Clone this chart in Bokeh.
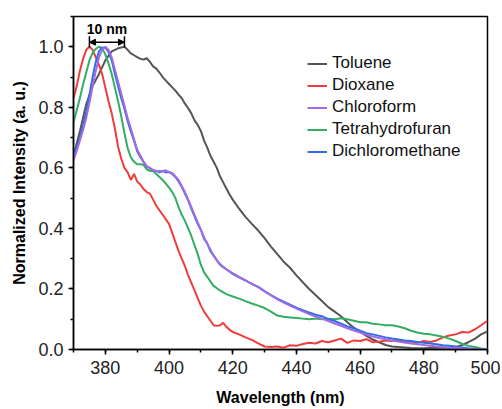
import numpy as np
from bokeh.plotting import figure
from bokeh.models import (Range1d, FixedTicker, Legend, LegendItem, Arrow, NormalHead)
from bokeh.core.properties import value
from bokeh.embed import file_html
from bokeh.resources import INLINE

# ---------------- data ----------------
tol_wl = [370, 372, 374, 376, 378, 380, 382, 384, 386, 387, 388, 389, 390, 391, 392, 393, 394, 395, 396, 397,
          398, 399, 400, 401, 402, 403, 404, 405, 406, 407, 408, 409, 410, 411, 412, 413, 414, 415, 416, 417,
          418, 419, 420, 422, 424, 426, 428, 430, 432, 434, 436, 438, 440, 442, 444, 446, 448, 450, 452, 454,
          456, 458, 460, 462, 464, 466, 468, 470, 472, 476, 480, 484, 488, 490, 492, 494, 496, 498, 500]
tol_int = [0.64, 0.72, 0.81, 0.87, 0.91, 0.955, 0.985, 0.995, 1.0, 0.99, 0.978, 0.972, 0.966, 0.96, 0.958, 0.962, 0.95, 0.935, 0.928, 0.915,
           0.90, 0.888, 0.877, 0.866, 0.855, 0.842, 0.83, 0.812, 0.797, 0.78, 0.757, 0.742, 0.722, 0.69, 0.667, 0.64, 0.62, 0.6, 0.572, 0.552,
           0.532, 0.512, 0.495, 0.465, 0.438, 0.415, 0.393, 0.368, 0.34, 0.315, 0.29, 0.27, 0.245, 0.222, 0.2, 0.18, 0.16, 0.14, 0.125, 0.11,
           0.09, 0.072, 0.058, 0.045, 0.033, 0.024, 0.015, 0.01, 0.008, 0.005, 0.004, 0.006, 0.006, 0.008, 0.015, 0.024, 0.035, 0.05, 0.06]

dio_wl = [370, 371, 372, 373, 374, 375, 376, 377, 378, 379, 380, 381, 382, 383, 384, 385, 386, 387, 388, 389,
          390, 391, 392, 393, 394, 395, 396, 397, 398, 399, 400, 401, 402, 403, 404, 405, 406, 407, 408, 409,
          410, 411, 412, 413, 414, 415, 416, 417, 418, 419, 420, 422, 424, 426, 428, 430, 432, 434, 436, 438,
          440, 442, 444, 446, 448, 450, 452, 454, 456, 458, 460, 462, 464, 466, 468, 470, 472, 474, 476, 478,
          480, 482, 484, 486, 488, 490, 492, 494, 496, 498, 500]
dio_int = [0.83, 0.87, 0.92, 0.96, 0.99, 1.0, 0.99, 0.965, 0.94, 0.91, 0.865, 0.82, 0.78, 0.73, 0.67, 0.63, 0.6, 0.585, 0.56, 0.58,
           0.555, 0.545, 0.53, 0.52, 0.515, 0.495, 0.475, 0.46, 0.445, 0.43, 0.415, 0.385, 0.355, 0.325, 0.3, 0.275, 0.245, 0.22, 0.195, 0.17,
           0.145, 0.125, 0.11, 0.095, 0.08, 0.078, 0.08, 0.088, 0.075, 0.065, 0.058, 0.05, 0.04, 0.032, 0.02, 0.01, 0.008, 0.01, 0.006, 0.014,
           0.012, 0.018, 0.022, 0.02, 0.028, 0.024, 0.03, 0.036, 0.022, 0.03, 0.028, 0.034, 0.024, 0.026, 0.03, 0.028, 0.032, 0.024, 0.026, 0.022,
           0.028, 0.025, 0.03, 0.04, 0.046, 0.05, 0.058, 0.056, 0.066, 0.08, 0.095]

chl_wl = [370, 371, 372, 373, 374, 375, 376, 377, 378, 379, 380, 381, 382, 383, 384, 385, 386, 387, 388, 389,
          390, 391, 392, 393, 394, 395, 396, 397, 398, 399, 400, 401, 402, 403, 404, 405, 406, 407, 408, 409,
          410, 411, 412, 413, 414, 415, 416, 417, 418, 420, 422, 424, 426, 428, 430, 432, 434, 436, 438, 440,
          442, 444, 446, 448, 450, 452, 454, 456, 458, 460, 462, 464, 466, 468, 470, 472, 474, 476, 478, 480,
          482, 484, 486, 488, 490, 492, 494, 496, 498, 500]
chl_int = [0.625, 0.655, 0.69, 0.725, 0.765, 0.815, 0.87, 0.92, 0.965, 0.99, 1.0, 0.99, 0.965, 0.925, 0.885, 0.845, 0.805, 0.765, 0.73, 0.695,
           0.66, 0.64, 0.62, 0.605, 0.6, 0.592, 0.59, 0.59, 0.588, 0.592, 0.585, 0.583, 0.572, 0.56, 0.54, 0.52, 0.495, 0.47, 0.445, 0.42,
           0.395, 0.37, 0.35, 0.33, 0.31, 0.295, 0.283, 0.273, 0.265, 0.252, 0.24, 0.228, 0.217, 0.206, 0.192, 0.179, 0.166, 0.155, 0.145, 0.135,
           0.126, 0.117, 0.109, 0.102, 0.094, 0.086, 0.078, 0.07, 0.063, 0.056, 0.049, 0.043, 0.038, 0.034, 0.03, 0.026, 0.023, 0.02, 0.017, 0.015,
           0.012, 0.01, 0.008, 0.006, 0.005, 0.003, 0.002, 0.001, 0.0, 0.0]

thf_wl = [370, 371, 372, 373, 374, 375, 376, 377, 378, 379, 380, 381, 382, 383, 384, 385, 386, 387, 388, 389,
          390, 391, 392, 393, 394, 395, 396, 397, 398, 399, 400, 401, 402, 403, 404, 405, 406, 407, 408, 409,
          410, 411, 412, 413, 414, 416, 418, 420, 422, 424, 426, 428, 430, 432, 434, 436, 438, 440, 442, 444,
          446, 448, 450, 452, 454, 456, 458, 460, 462, 464, 466, 468, 470, 472, 474, 476, 478, 480, 482, 484,
          486, 488, 490, 492, 494, 496, 498, 500]
thf_int = [0.75, 0.79, 0.83, 0.875, 0.915, 0.955, 0.98, 0.993, 1.0, 0.995, 0.975, 0.945, 0.91, 0.865, 0.82, 0.77, 0.715, 0.665, 0.635, 0.62,
           0.612, 0.612, 0.61, 0.595, 0.59, 0.59, 0.58, 0.57, 0.56, 0.548, 0.535, 0.52, 0.5, 0.47, 0.445, 0.425, 0.4, 0.375, 0.345, 0.315,
           0.28, 0.255, 0.24, 0.225, 0.21, 0.195, 0.183, 0.175, 0.168, 0.16, 0.152, 0.145, 0.137, 0.125, 0.112, 0.108, 0.106, 0.104, 0.102, 0.1,
           0.102, 0.1, 0.102, 0.1, 0.103, 0.1, 0.095, 0.09, 0.09, 0.085, 0.083, 0.08, 0.08, 0.076, 0.07, 0.062, 0.056, 0.052, 0.05, 0.046,
           0.042, 0.036, 0.028, 0.019, 0.012, 0.008, 0.003, 0.0]

dcm_wl = [370, 371, 372, 373, 374, 375, 376, 377, 378, 379, 380, 381, 382, 383, 384, 385, 386, 387, 388, 389,
          390, 391, 392, 393, 394, 395, 396, 397, 398, 399, 400, 401, 402, 403, 404, 405, 406, 407, 408, 409,
          410, 411, 412, 413, 414, 415, 416, 417, 418, 420, 422, 424, 426, 428, 430, 432, 434, 436, 438, 440,
          442, 444, 446, 448, 450, 452, 454, 456, 458, 460, 462, 464, 466, 468, 470, 472, 474, 476, 478, 480,
          482, 484, 486, 488, 490, 492, 494, 496, 498, 500]
dcm_int = [0.635, 0.665, 0.7, 0.74, 0.785, 0.84, 0.9, 0.95, 0.985, 0.998, 0.997, 0.983, 0.955, 0.91, 0.87, 0.83, 0.795, 0.755, 0.72, 0.69,
           0.655, 0.635, 0.62, 0.605, 0.598, 0.592, 0.59, 0.585, 0.59, 0.585, 0.587, 0.58, 0.57, 0.555, 0.537, 0.515, 0.493, 0.465, 0.44, 0.415,
           0.395, 0.365, 0.35, 0.325, 0.31, 0.295, 0.28, 0.272, 0.265, 0.25, 0.238, 0.228, 0.217, 0.207, 0.193, 0.18, 0.168, 0.158, 0.148, 0.138,
           0.13, 0.122, 0.115, 0.11, 0.1, 0.094, 0.085, 0.076, 0.07, 0.062, 0.054, 0.05, 0.045, 0.04, 0.036, 0.033, 0.03, 0.028, 0.025, 0.022,
           0.02, 0.017, 0.014, 0.012, 0.01, 0.007, 0.004, 0.002, 0.0, 0.0]

series_names = ["Toluene", "Dioxane", "Chloroform", "Tetrahydrofuran", "Dichloromethane"]
series_colors = ["#555555", "#f23b3b", "#a46ae6", "#32ad62", "#2f6fe4"]

x_ticks = [380, 400, 420, 440, 460, 480, 500]
y_ticks = [0.0, 0.2, 0.4, 0.6, 0.8, 1.0]
y_tick_labels = {0.0: "0.0", 0.2: "0.2", 0.4: "0.4", 0.6: "0.6", 0.8: "0.8", 1.0: "1.0"}
shift_label = "10 nm"

# ---------------- figure ----------------
FONT = "Liberation Sans"
p = figure(width=500, height=408, output_backend="svg", toolbar_location=None,
           x_range=Range1d(370, 500), y_range=Range1d(0, 1.1),
           min_border_left=73, min_border_right=13, min_border_top=16, min_border_bottom=59)
p.background_fill_color = "white"
p.border_fill_color = "white"
p.grid.visible = False
p.outline_line_color = "black"
p.outline_line_width = 1.5

for ax in (p.xaxis[0], p.yaxis[0]):
    ax.axis_line_width = 1.5
    ax.axis_line_color = "black"
    ax.major_tick_line_width = 1.5
    ax.minor_tick_line_width = 1.5
    ax.major_tick_in = 0
    ax.major_tick_out = 5
    ax.minor_tick_in = 0
    ax.minor_tick_out = 3
    ax.major_label_text_font = FONT
    ax.major_label_text_font_size = "18px"
    ax.major_label_text_color = "#222222"
    ax.axis_label_text_font = FONT
    ax.axis_label_text_font_size = "16px"
    ax.axis_label_text_font_style = "bold"
    ax.axis_label_text_color = "black"

p.xaxis[0].ticker = FixedTicker(ticks=x_ticks, minor_ticks=[370 + 10 * i for i in range(14)])
p.yaxis[0].ticker = FixedTicker(ticks=y_ticks, minor_ticks=[0.1 * i for i in range(12)])
p.yaxis[0].major_label_overrides = y_tick_labels
p.xaxis[0].axis_label = "Wavelength (nm)"
p.yaxis[0].axis_label = "Normalized Intensity (a. u.)"
p.xaxis[0].major_label_standoff = 6
p.xaxis[0].axis_label_standoff = 12
p.yaxis[0].major_label_standoff = 5
p.yaxis[0].axis_label_standoff = 7

data = {
    "Toluene": (tol_wl, tol_int),
    "Dioxane": (dio_wl, dio_int),
    "Chloroform": (chl_wl, chl_int),
    "Tetrahydrofuran": (thf_wl, thf_int),
    "Dichloromethane": (dcm_wl, dcm_int),
}
renderers = {}
draw_order = ["Toluene", "Dioxane", "Tetrahydrofuran", "Dichloromethane", "Chloroform"]
for name in draw_order:
    wl, it = data[name]
    c = series_colors[series_names.index(name)]
    renderers[name] = p.line(wl, it, line_color=c, line_width=2)

legend = Legend(items=[LegendItem(label=n, renderers=[renderers[n]]) for n in series_names],
                location=(234, 188), padding=0, spacing=2, glyph_width=20, glyph_height=19,
                label_height=19, label_standoff=5, border_line_color=None,
                background_fill_alpha=0, label_text_font=FONT, label_text_font_size="17px",
                label_text_color="#111111")
p.add_layout(legend, "center")

# 10 nm shift marker between Dioxane and Toluene peaks
x_left = dio_wl[int(np.argmax(dio_int))]
x_right = tol_wl[int(np.argmax(tol_int))]
y_arrow = 1.015
p.add_layout(Arrow(start=NormalHead(size=6, fill_color="black", line_color="black"),
                   end=NormalHead(size=6, fill_color="black", line_color="black"),
                   x_start=x_left, y_start=y_arrow, x_end=x_right, y_end=y_arrow,
                   line_width=1.5, line_color="black"))
p.segment(x0=[x_left, x_right], y0=[0.998, 0.998], x1=[x_left, x_right], y1=[1.035, 1.035],
          line_color="black", line_width=1.5)
p.text(x=[(x_left + x_right) / 2], y=[1.06], text=[shift_label], text_align="center",
       text_baseline="middle", text_font=value(FONT), text_font_size="14px",
       text_font_style="bold", text_color="black")

open("out.html", "w").write(file_html(p, INLINE))
